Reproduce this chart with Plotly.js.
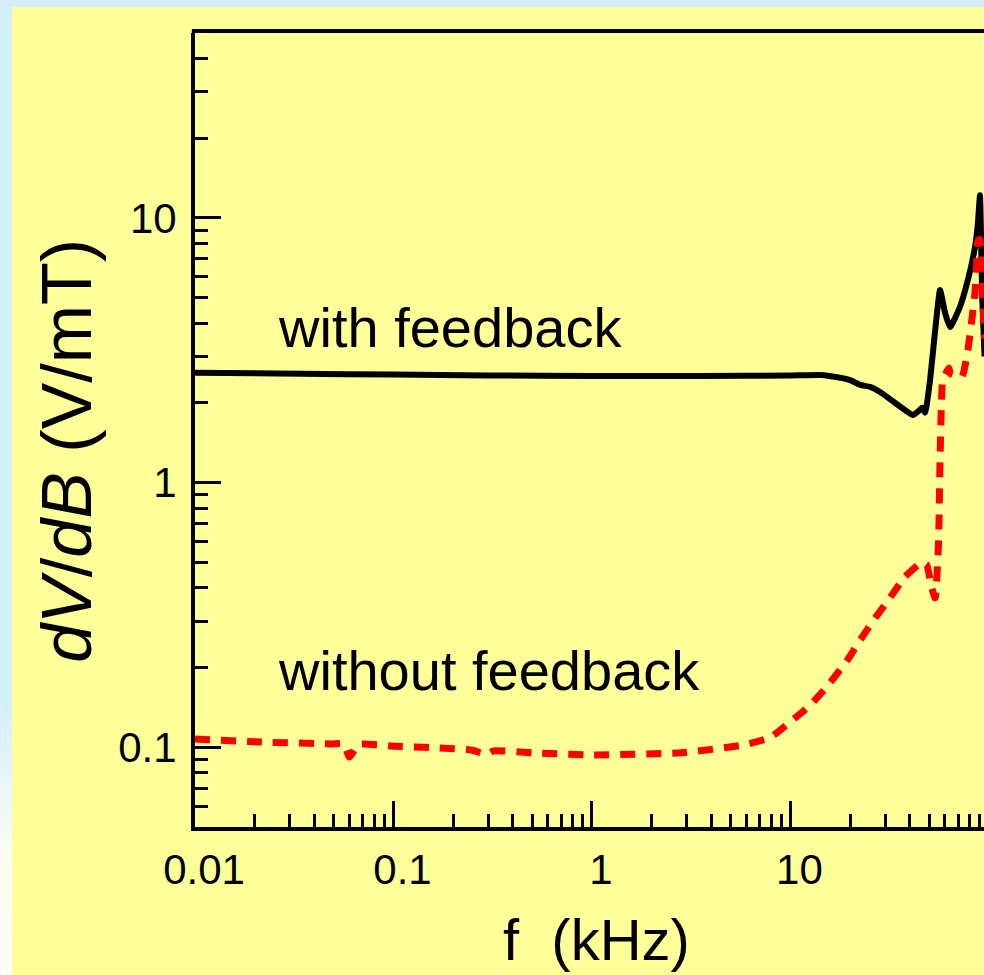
<!DOCTYPE html>
<html>
<head>
<meta charset="utf-8">
<script src="https://cdn.plot.ly/plotly-3.0.1.min.js"></script>
<style>
  html, body { margin: 0; padding: 0; width: 984px; height: 975px; overflow: hidden;
    background: linear-gradient(to bottom, #D5EEFF 0%, #D5EEFF 72%, #FBFDF3 88%, #FEFEF6 100%); }
  #chart { position: absolute; left: 12px; top: 7px; width: 972px; height: 968px; }
</style>
</head>
<body>
<div id="chart"></div>
<script>
// ---- data ----
const fbFreq = [0.01, 0.0345, 0.1, 0.3, 1, 3.5, 10, 14.2, 17.8, 20, 22.5, 25.2, 28.3, 33.7, 41.5, 44, 46.1, 47.7, 50.5, 53.6, 56.7, 60.1, 63.7, 71.4, 78.3, 85.1, 88, 90.1, 92.5, 95];
const fbGain = [2.60, 2.58, 2.56, 2.54, 2.53, 2.53, 2.54, 2.55, 2.49, 2.44, 2.34, 2.30, 2.20, 2.00, 1.80, 1.86, 1.92, 1.84, 2.44, 3.78, 5.35, 4.38, 3.87, 4.61, 5.83, 7.78, 9.6, 12.2, 5.0, 3.0];

const nfbFreq = [0.01, 0.0217, 0.0488, 0.056, 0.060, 0.0667, 0.1, 0.168, 0.25, 0.293, 0.32, 0.5, 0.98, 2.8, 5.8, 7.93, 10, 12.6, 15.5, 19.4, 22.5, 26.7, 31.7, 37.6, 44, 46.1, 48.6, 51.5, 53.6, 55.7, 56.7, 57.5, 58.5, 62.8, 64, 73.1, 78.3, 81.6, 85, 86.5, 88, 90, 92.5, 95];
const nfbGain = [0.1076, 0.1047, 0.103, 0.103, 0.092, 0.1026, 0.101, 0.0995, 0.0975, 0.094, 0.097, 0.0953, 0.0936, 0.0953, 0.102, 0.109, 0.125, 0.1445, 0.172, 0.214, 0.255, 0.308, 0.367, 0.44, 0.49, 0.502, 0.49, 0.40, 0.367, 0.59, 1.22, 1.9, 2.44, 2.71, 2.58, 2.51, 3.17, 4.01, 5.21, 6.53, 8.2, 8.3, 5.5, 3.5];

const xTickVals = [0.01, 0.1, 1, 10];
const xTickText = ['0.01', '0.1', '1', '10'];
const yTickVals = [0.1, 1, 10];
const yTickText = ['0.1', '1', '10'];
const xMinorVals = [0.02,0.03,0.04,0.05,0.06,0.07,0.08,0.09, 0.2,0.3,0.4,0.5,0.6,0.7,0.8,0.9, 2,3,4,5,6,7,8,9, 20,30,40,50,60,70,80,90];
const yMinorVals = [0.06,0.07,0.08,0.09, 0.2,0.3,0.4,0.5,0.6,0.7,0.8,0.9, 2,3,4,5,6,7,8,9, 20,30,40];

const labelWith = 'with feedback';
const labelWithout = 'without feedback';
const xTitle = 'f\u00A0 (kHz)';
const yTitle = '<i>dV</i>/<i>dB</i> (V/mT)';

const FONT = 'Arial, "Liberation Sans", Helvetica, sans-serif';

const traces = [
  { x: fbFreq, y: fbGain, type: 'scatter', mode: 'lines',
    line: { color: '#000000', width: 6, shape: 'spline', smoothing: 0.4 }, hoverinfo: 'skip' },
  { x: nfbFreq, y: nfbGain, type: 'scatter', mode: 'lines',
    line: { color: '#FF0000', width: 7, dash: '15px,11px', shape: 'spline', smoothing: 0.4 }, hoverinfo: 'skip' }
];

const axisCommon = {
  type: 'log', showgrid: false, zeroline: false,
  showline: true, linecolor: '#000', linewidth: 4,
  ticks: 'inside', ticklen: 26, tickwidth: 3, tickcolor: '#000',
  tickfont: { family: FONT, size: 42, color: '#000' },
  automargin: false, tickmode: 'array'
};

const layout = {
  width: 972, height: 968,
  margin: { l: 183, r: 0, t: 26, b: 148 },
  paper_bgcolor: '#FFFF99', plot_bgcolor: '#FFFF99',
  showlegend: false,
  font: { family: FONT, color: '#000' },
  xaxis: Object.assign({}, axisCommon, {
    range: [-2, 1.975],
    tickvals: xTickVals, ticktext: xTickText,
    ticklabelshift: 9, ticklabelstandoff: 3,
    minor: { tickmode: 'array', tickvals: xMinorVals, ticks: 'inside', ticklen: 13, tickwidth: 3, tickcolor: '#000', showgrid: false }
  }),
  yaxis: Object.assign({}, axisCommon, {
    range: [Math.log10(0.05), Math.log10(50)],
    tickvals: yTickVals, ticktext: yTickText,
    ticklabelstandoff: 6,
    minor: { tickmode: 'array', tickvals: yMinorVals, ticks: 'inside', ticklen: 13, tickwidth: 3, tickcolor: '#000', showgrid: false }
  }),
  shapes: [
    { type: 'line', xref: 'paper', yref: 'paper', x0: -0.004, x1: 1, y0: 1.0025, y1: 1.0025,
      line: { color: '#000', width: 4 } }
  ],
  annotations: [
    { text: labelWith, xref: 'paper', yref: 'paper', x: 0.103, y: 0.629,
      xanchor: 'left', yanchor: 'middle', showarrow: false,
      font: { family: FONT, size: 56, color: '#000' } },
    { text: labelWithout, xref: 'paper', yref: 'paper', x: 0.103, y: 0.1975,
      xanchor: 'left', yanchor: 'middle', showarrow: false,
      font: { family: FONT, size: 56, color: '#000' } },
    { text: xTitle, xref: 'paper', yref: 'paper', x: 0.509, y: -0.142,
      xanchor: 'center', yanchor: 'middle', showarrow: false,
      font: { family: FONT, size: 58, color: '#000' } },
    { text: yTitle, xref: 'paper', yref: 'paper', x: -0.1625, y: 0.4735, textangle: -90,
      xanchor: 'center', yanchor: 'middle', showarrow: false,
      font: { family: FONT, size: 70, color: '#000' } }
  ]
};

Plotly.newPlot('chart', traces, layout, { displayModeBar: false, staticPlot: true });
</script>
</body>
</html>
